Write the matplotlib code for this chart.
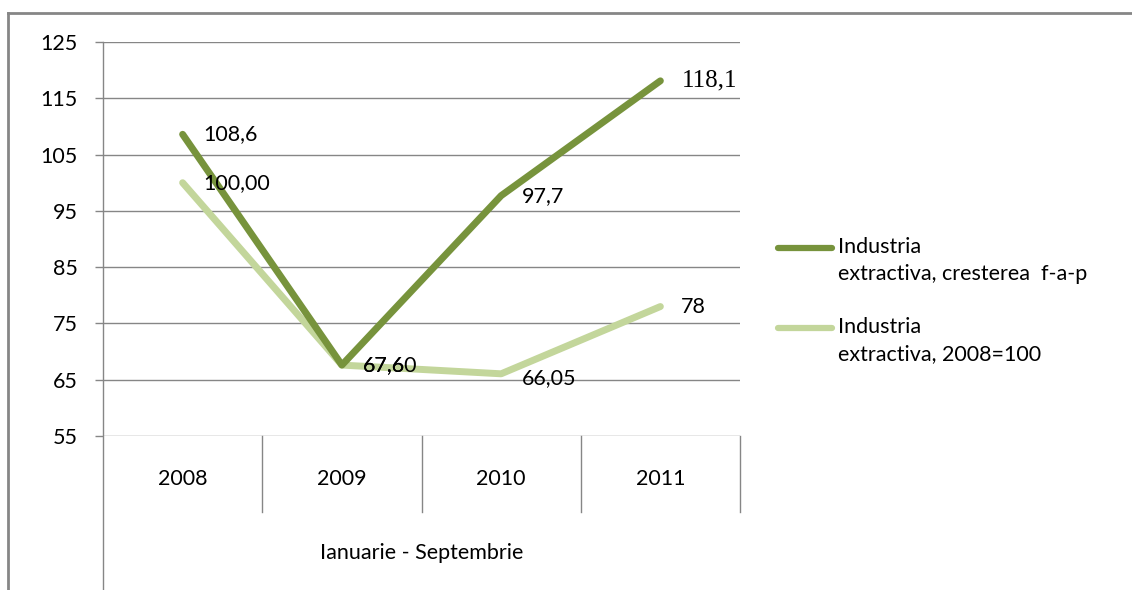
import matplotlib
matplotlib.use("Agg")
import matplotlib.pyplot as plt
from matplotlib.lines import Line2D
import matplotlib.transforms as mtransforms

plt.rcParams['font.family'] = ['Lato', 'DejaVu Sans']

# data
years = ['2008', '2009', '2010', '2011']
period = 'Ianuarie - Septembrie'
growth = [108.6, 67.6, 97.7, 118.1]
growth_labels = ['108,6', '67,6', '97,7', '118,1']
index_2008 = [100.0, 67.6, 66.05, 78.0]
index_labels = ['100,00', '67,60', '66,05', '78']
series_names = ['Industria\nextractiva, cresterea  f-a-p', 'Industria\nextractiva, 2008=100']
yticks = [55, 65, 75, 85, 95, 105, 115, 125]

dark = '#77933C'
light = '#C3D69B'
gray = '#868686'
fs = 15.5

W, H = 1132, 590
fig = plt.figure(figsize=(W / 100, H / 100), dpi=100)
ax = fig.add_axes([103 / W, 1 - 436 / H, (740 - 103) / W, (436 - 42) / H])

x = list(range(len(years)))
ax.plot(x, index_2008, color=light, lw=5, solid_capstyle='round', zorder=3)
ax.plot(x, growth, color=dark, lw=5, solid_capstyle='round', zorder=4)

ax.set_xlim(-0.5, len(years) - 0.5)
ax.set_ylim(55, 125)
ax.set_yticks(yticks)
ax.set_yticklabels([str(v) for v in yticks], fontsize=fs)
ax.tick_params(axis='y', length=6, color=gray, pad=12, width=1)
ax.set_xticks([])
ax.grid(axis='y', color=gray, lw=1)
ax.set_axisbelow(True)
for s in ['top', 'right', 'bottom', 'left']:
    ax.spines[s].set_visible(False)

# data labels
for xi, v, t in zip(x, growth, growth_labels):
    off = mtransforms.offset_copy(ax.transData, fig=fig, x=21, y=0, units='dots')
    if t == '118,1':
        ax.text(xi, v, t, transform=off, fontsize=18, va='center', ha='left', zorder=5,
                family=['Liberation Serif'])
    else:
        ax.text(xi, v, t, transform=off, fontsize=fs, va='center', ha='left', zorder=5)
for xi, v, t in zip(x, index_2008, index_labels):
    dy = -4 if t == '66,05' else 0
    o = mtransforms.offset_copy(ax.transData, fig=fig, x=21, y=dy, units='dots')
    ax.text(xi, v, t, transform=o, fontsize=fs, va='center', ha='left', zorder=5)

# category axis (multi-level)
tr = mtransforms.blended_transform_factory(ax.transData, ax.transAxes)
ax.plot([-0.5, -0.5], [1, (436 - 592) / 394], transform=tr, color=gray, lw=1, clip_on=False)
for b in range(1, len(years) + 1):
    ax.plot([b - 0.5, b - 0.5], [0, -(512 - 436) / 394], transform=tr, color=gray, lw=1, clip_on=False)
for xi, y in zip(x, years):
    ax.text(xi, -(479 - 436) / 394, y, transform=tr, ha='center', va='center', fontsize=fs)
ax.text((len(years) - 1) / 2, -(553 - 436) / 394, period, transform=tr, ha='center', va='center', fontsize=fs)

# legend
for name, col, yl in zip(series_names, [dark, light], [248, 328]):
    fig.add_artist(Line2D([778 / W, 832 / W], [1 - yl / H, 1 - yl / H], color=col, lw=4.5,
                          solid_capstyle='round'))
    fig.text(838 / W, 1 - (yl - 11) / H, name, fontsize=fs, va='top', ha='left', linespacing=1.45)

# outer frame (partially cropped)
fig.add_artist(Line2D([8 / W, 1], [1 - 13 / H, 1 - 13 / H], color=gray, lw=2))
fig.add_artist(Line2D([8 / W, 8 / W], [0, 1 - 13 / H], color=gray, lw=2))

fig.savefig('out.png', dpi=100)
